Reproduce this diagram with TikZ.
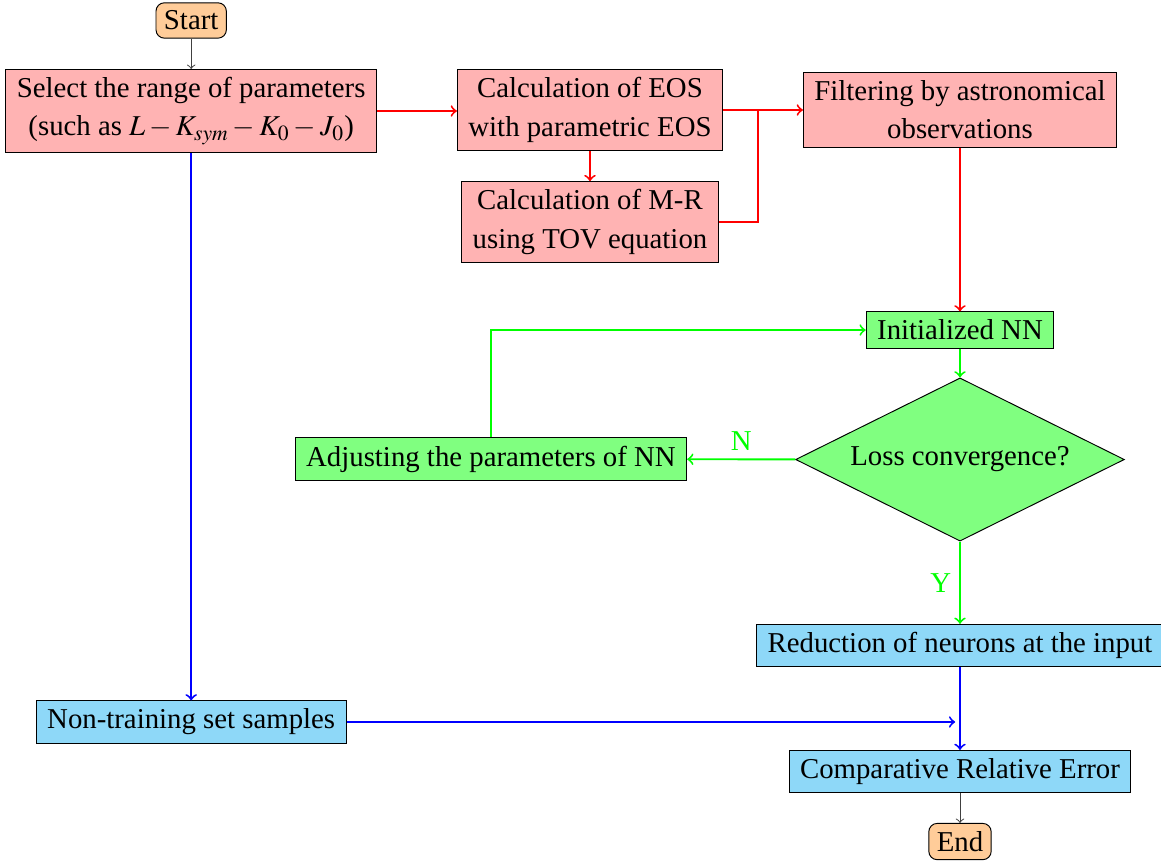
\documentclass[tikz,border=0pt]{standalone}
\usepackage{mathptmx}
\usepackage[no-math]{fontspec}
\setmainfont{Liberation Serif}
\usepackage{xcolor}
\usepackage{tikz}
\usetikzlibrary{shapes.geometric, calc}
\definecolor{prep}{HTML}{FFB3B3}
\definecolor{train}{HTML}{80FF80}
\definecolor{test}{HTML}{8ED8F8}
\definecolor{term}{HTML}{FFCC99}

\begin{document}
\begin{tikzpicture}[
    font=\fontsize{12}{15.9}\selectfont,
    blk/.style={draw=black, fill=#1, align=center, inner xsep=4.6pt},
    ends/.style={draw=black, fill=term, rounded corners=3.5pt},
    ask/.style={diamond, aspect=2, draw=black, fill=#1, align=center,
        minimum width=137pt, minimum height=68pt},
    link/.style={->, color=#1, line width=0.8pt},
    thinlink/.style={->, draw=black!75},
    tag/.style={text=#1},
  ]
  \useasboundingbox (0mm,0mm) rectangle (170.04mm,-126.39mm);
  % preparation of the data
  \node[ends] (start) at (28.00mm,-3.00mm) {Start};
  \node[blk=prep] (select_range) at (28.00mm,-16.26mm) {Select the range of parameters\\(such as $L-K_{sym}-K_0-J_0$)};
  \node[blk=prep] (calc_eos) at (86.41mm,-16.11mm) {Calculation of EOS\\with parametric EOS};
  \node[blk=prep] (calc_mr) at (86.41mm,-32.51mm) {Calculation of M-R\\using TOV equation};
  \node[blk=prep] (filter_obs) at (140.60mm,-16.11mm) {Filtering by astronomical\\observations};
  % training loop
  \node[blk=train] (init_nn) at (140.60mm,-48.34mm) {Initialized NN};
  \node[ask=train] (loss_conv) at (140.60mm,-67.30mm) {Loss convergence?};
  \node[blk=train] (adjust_nn) at (71.90mm,-67.23mm) {Adjusting the parameters of NN};
  % testing
  \node[blk=test] (reduce_input) at (140.60mm,-94.54mm) {Reduction of neurons at the input};
  \node[blk=test] (non_training) at (28.00mm,-105.74mm) {Non-training set samples};
  \node[blk=test] (compare_err) at (140.60mm,-112.99mm) {Comparative Relative Error};
  \node[ends] (finish) at (140.60mm,-123.25mm) {End};
  \coordinate (merge) at ($(calc_eos.east)+(5.1mm,0)$);

  \draw[thinlink] (start) -- (select_range);
  \draw[link=red] (select_range.east) -- (calc_eos.west |- select_range.east);
  \draw[link=red] (calc_eos) -- (calc_mr);
  \draw[link=red] (calc_eos.east) -- (filter_obs.west |- calc_eos.east);
  \draw[link=red, -] (calc_mr.east) -| (merge);
  \draw[link=red] (filter_obs) -- (init_nn);
  \draw[link=green] (init_nn) -- (loss_conv);
  \draw[link=green] (loss_conv) -- node[above, tag=green] {N} (adjust_nn);
  \draw[link=green] (adjust_nn) |- (init_nn);
  \draw[link=green] (loss_conv) -- node[left, tag=green] {Y} (reduce_input);
  \draw[link=blue] (select_range) -- (non_training);
  \draw[link=blue] (reduce_input) -- (compare_err);
  \draw[link=blue, shorten >=2pt] (non_training.east) -- (non_training.east -| reduce_input.south);
  \draw[thinlink] (compare_err) -- (finish);
  \end{tikzpicture}
\end{document}
